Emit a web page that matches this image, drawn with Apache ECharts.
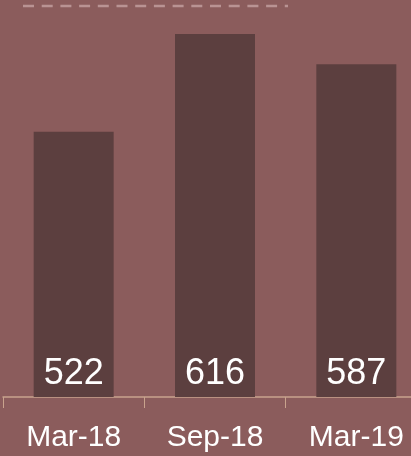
<!DOCTYPE html>
<html>
<head>
<meta charset="utf-8">
<script src="https://cdn.jsdelivr.net/npm/echarts@6/dist/echarts.min.js"></script>
<style>
	html, body { margin: 0; padding: 0; background: #8b5c5c; }
	#main { width: 411px; height: 456px; }
</style>
</head>
<body>
<div id="main"></div>
<script>
var categories = ['Mar-18', 'Sep-18', 'Mar-19'];
var values = [522, 616, 587];

var myChart = echarts.init(document.getElementById('main'));
var option = {
	backgroundColor: '#8b5c5c',
	animation: false,
	// 右边超出画布一点
	grid: { left: 3, width: 424, top: 6, bottom: 59, outerBoundsMode: 'none' },
	xAxis: {
		type: 'category',
		data: categories,
		axisLine: { lineStyle: { color: '#c9a38d', width: 1.5 } },
		axisTick: {
			show: true,
			interval: 0,
			length: 11,
			lineStyle: { color: '#c9a38d' }
		},
		axisLabel: {
			color: '#ffffff',
			fontSize: 30,
			fontFamily: 'Liberation Sans',
			margin: 26
		}
	},
	yAxis: {
		type: 'value',
		min: 267,
		max: 643,
		show: false,
		splitLine: { show: false }
	},
	series: [{
		type: 'bar',
		data: values,
		barWidth: 80,
		itemStyle: { color: '#5c3f3f' },
		label: {
			show: true,
			position: 'insideBottom',
			distance: 5,
			color: '#ffffff',
			fontSize: 36,
			fontFamily: 'Liberation Sans'
		}
	}],
	// 顶部虚线
	graphic: [{
		type: 'line',
		shape: { x1: 23, y1: 6, x2: 288, y2: 6 },
		style: { stroke: '#b99393', lineWidth: 2.5, lineDash: [11, 7.7] },
		silent: true
	}]
};
myChart.setOption(option);
</script>
</body>
</html>
